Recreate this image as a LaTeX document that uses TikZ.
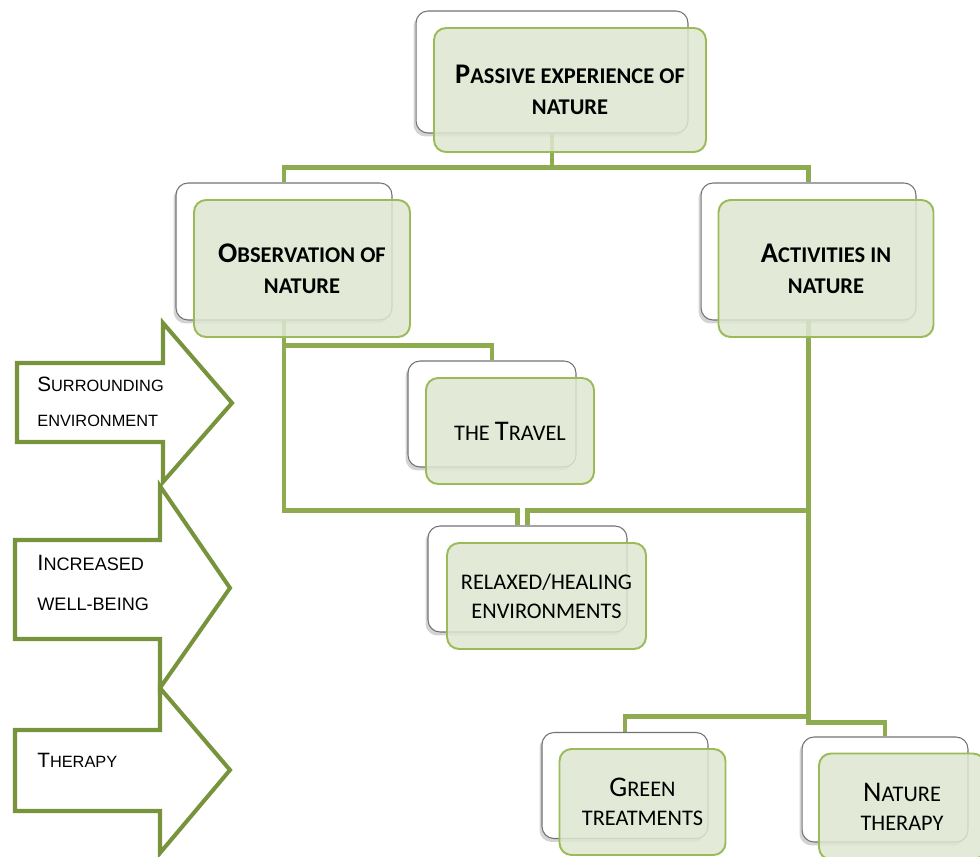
\documentclass[tikz,border=0pt]{standalone}
\usepackage{fontspec}
\newfontfamily\carlito{Carlito}
\newfontfamily\arial{Liberation Sans}
\usetikzlibrary{shadows,backgrounds}
\definecolor{linkgreen}{RGB}{143,171,80}
\definecolor{arrowgreen}{RGB}{119,147,60}
\definecolor{boxedge}{RGB}{155,187,89}
\definecolor{boxfill}{RGB}{222,231,209}
% first letters of the small-caps labels
\newcommand{\Lg}[1]{{\fontsize{16.2}{18}\selectfont #1}}
\newcommand{\La}[1]{{\fontsize{11.8}{13}\selectfont #1}}
\newcommand{\Lb}[1]{{\fontsize{12.6}{14}\selectfont #1}}

\begin{document}
\begin{tikzpicture}[
      x=0.02cm, y=-0.02cm,
      back/.style={rectangle,draw=gray!90!black,line width=0.6pt,fill=white,inner sep=0pt,
                   rounded corners=0.24cm,
                   drop shadow={shadow xshift=-0.5mm,shadow yshift=-0.7mm,opacity=0.35}},
      front/.style={rectangle,draw=boxedge,line width=1.1pt,fill=boxfill,fill opacity=0.85,
                    text opacity=1,inner sep=0pt,rounded corners=0.24cm,align=center,
                    font=\carlito\fontsize{12.7}{16.5}\selectfont},
      mainfront/.style={front,font=\carlito\bfseries\fontsize{12.8}{17.8}\selectfont},
      link/.style={draw=linkgreen,line width=2.3pt},
      blockarrow/.style={draw=arrowgreen,line width=2.3pt,fill=white},
      sctext/.style={anchor=base west,inner sep=0pt,font=\arial\fontsize{9.3}{11}\selectfont}
  ]
  \useasboundingbox (0,0) rectangle (980,857);

  % ===================== left: block arrows =====================
  \draw[blockarrow] (17,363) -- (163,363) -- (163,323) -- (232,403) -- (163,482)
                    -- (163,442) -- (17,442) -- cycle;
  \draw[blockarrow] (15,540) -- (160,540) -- (160,486) -- (230,588) -- (160,688)
                    -- (160,639) -- (15,639) -- cycle;
  \draw[blockarrow] (15,730) -- (160,730) -- (160,688) -- (230,770) -- (160,853)
                    -- (160,811) -- (15,811) -- cycle;

  \node[sctext] (surr1) at (37,392) {\La{S}URROUNDING};
  \node[sctext] (surr2) at (37,427) {ENVIRONMENT};
  \node[sctext,font=\arial\fontsize{10.3}{12}\selectfont] (incr1) at (37,571) {\Lb{I}NCREASED};
  \node[sctext,font=\arial\fontsize{10.3}{12}\selectfont] (incr2) at (37,610) {WELL-BEING};
  \node[sctext] (ther1) at (37,767) {\La{T}HERAPY};

  % ===================== top level =====================
  \node[back,minimum width=5.44cm,minimum height=2.44cm] (topb) at (552,72) {};
  \node[mainfront,minimum width=5.44cm,minimum height=2.48cm] (topf) at (570,90)
      {\Lg{P}ASSIVE EXPERIENCE OF\\NATURE};

  % ===================== second level =====================
  \node[back,minimum width=4.32cm,minimum height=2.74cm] (obsb) at (284,251.5) {};
  \node[mainfront,minimum width=4.32cm,minimum height=2.74cm] (obsf) at (302,268.5)
      {\Lg{O}BSERVATION OF\\NATURE};

  \node[back,minimum width=4.30cm,minimum height=2.74cm] (actb) at (808.5,251.5) {};
  \node[mainfront,minimum width=4.30cm,minimum height=2.74cm] (actf) at (826,268.5)
      {\Lg{A}CTIVITIES IN\\NATURE};

  % ===================== lower boxes =====================
  \node[back,minimum width=3.36cm,minimum height=2.12cm] (travb) at (492,414) {};
  \node[front,minimum width=3.36cm,minimum height=2.12cm] (travf) at (510,431)
      {THE \Lg{T}RAVEL};

  \node[back,minimum width=3.98cm,minimum height=2.12cm] (relb) at (527.5,579) {};
  \node[front,minimum width=3.98cm,minimum height=2.12cm] (relf) at (546.5,596)
      {RELAXED/HEALING\\ENVIRONMENTS};

  \node[back,minimum width=3.32cm,minimum height=2.12cm] (greenb) at (625,785.5) {};
  \node[front,minimum width=3.32cm,minimum height=2.12cm] (greenf) at (642.5,802)
      {\Lg{G}REEN\\TREATMENTS};

  \node[back,minimum width=3.32cm,minimum height=2.10cm] (natb) at (885,789.5) {};
  \node[front,minimum width=3.32cm,minimum height=2.12cm] (natf) at (902,806.5)
      {\Lg{N}ATURE\\THERAPY};

  % ===================== connectors =====================
  \begin{scope}[on background layer]
    \draw[link] (topb.south) -- ++(0,34) -| (obsb.north);
    \draw[link] (topb.south) -- ++(0,34) -| (actb.north);

    \draw[link] (obsb.south) -- ++(0,25) -| (travb.north);
    \draw[link] (obsb.south) -- ++(0,190) -| ([xshift=-0.2cm]relb.north);

    \draw[link] (actb.south) -- ++(0,190) -| (relb.north);
    \draw[link] (actb.south) -- ++(0,396) -| (greenb.north);
    \draw[link] (actb.south) -- ++(0,402) -| (natb.north);
  \end{scope}

\end{tikzpicture}
\end{document}
